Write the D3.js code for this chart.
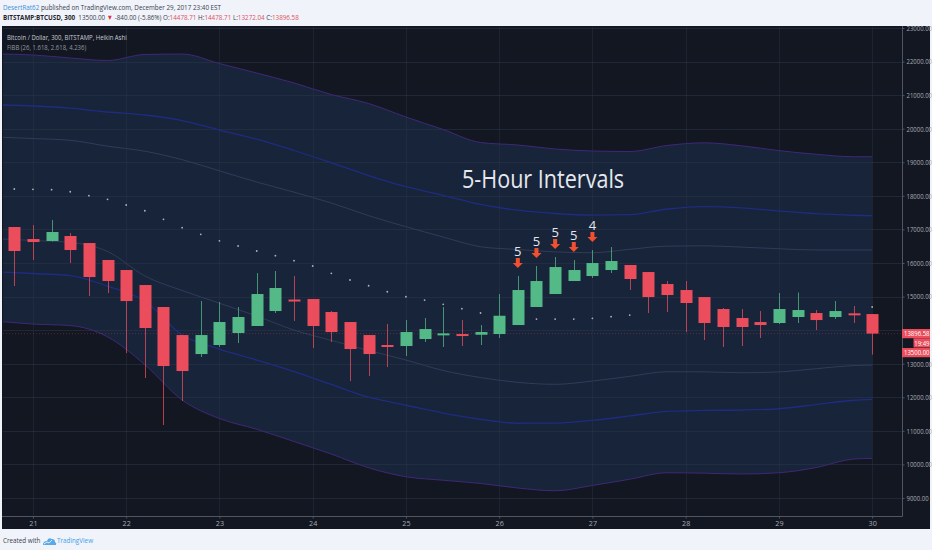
<!DOCTYPE html>
<html>
<head>
<meta charset="utf-8">
<script src="https://cdn.jsdelivr.net/npm/d3@7"></script>
<style>
  body { margin: 0; background: #f0f3fa; }
  svg { display: block; }
  text { font-family: "Open Sans", sans-serif; }
</style>
</head>
<body>
<div class="chart"></div>
<script>
// time axis: day labels and the 5h bar each one sits under
var dayLabels = ["21", "22", "23", "24", "25", "26", "27", "28", "29", "30"];
var dayBars = [1, 6, 11, 16, 21, 26, 31, 36, 41, 46];

// price axis
var priceTicks = [9000, 10000, 11000, 12000, 13000, 14000, 15000, 16000,
  17000, 18000, 19000, 20000, 21000, 22000, 23000];

// Heikin Ashi candles, BTCUSD 300 (one value per bar)
var haOpen = [17072, 16714, 16655, 16804, 16595, 16089, 15791, 15344, 14689, 13854,
  13288, 13557, 13914, 14123, 14569, 14912, 14927, 14540, 14242, 13854,
  13557, 13527, 13735, 13863, 13884, 13863, 13884, 14152, 14689, 15076,
  15463, 15612, 15791, 15940, 15731, 15374, 15195, 14986, 14629, 14361,
  14242, 14212, 14391, 14510, 14391, 14501, 14478.71];
var haHigh = [17072, 17131, 17280, 16893, 16595, 16089, 15791, 15344, 14689, 13854,
  14867, 14837, 14689, 15701, 15761, 15612, 14927, 14570, 14242, 13854,
  14182, 14301, 14361, 14689, 14301, 14152, 15076, 15612, 15910, 16178,
  16089, 16387, 16476, 15940, 15731, 15463, 15463, 14986, 14659, 14629,
  14569, 15106, 15120, 14599, 14867, 14718, 14478.71];
var haLow = [15314, 16089, 16640, 15999, 15016, 15106, 13318, 12573, 11173, 11888,
  13199, 13497, 13616, 14123, 14510, 14272, 13467, 13646, 12484, 12633,
  12901, 13229, 13646, 13497, 13527, 13557, 13765, 14152, 14689, 15076,
  15463, 15553, 15702, 15195, 14510, 14540, 13944, 13706, 13497, 13527,
  13765, 14182, 14212, 14003, 14331, 14212, 13272.04];
var haClose = [16357, 16625, 16923, 16387, 15582, 15463, 14867, 14063, 12931, 12782,
  13854, 14242, 14391, 15076, 15255, 14876, 14123, 13944, 13437, 13288,
  13527, 13944, 14033, 13904, 13845, 13944, 14429, 15195, 15463, 15880,
  15791, 15999, 16059, 15523, 14986, 15046, 14808, 14212, 14093, 14093,
  14152, 14629, 14599, 14301, 14569, 14459, 13896.58];

// trailing dots (null where none is drawn)
var sarDots = [18204, 18195, 18183, 18123, 18004, 17897, 17727, 17557, 17301, 17051,
  16854, 16661, 16506, 16357, 16217, 16068, 15910, 15692, 15493, 15323,
  15144, 14995, 14897, 14769, 14638, 14510, null, null, 14331, 14331,
  14331, 14352, 14400, 14450, null, null, null, null, null, null,
  null, null, null, null, null, null, 14689];

// FiBB (26, 1.618, 2.618, 4.236) bands, read at these bars
var bandBars = [-0.6, 1, 3, 5, 7, 9, 11, 13, 15, 17, 19, 21, 23, 25, 27, 29, 31, 33,
  35, 37, 39, 41, 43, 45, 46];
var upper4236 = [22225, 22196, 22106, 22032, 22211, 22225, 21942, 21659, 21362, 21019,
  20751, 20349, 19976, 19589, 19515, 19395, 19336, 19321, 19500, 19580,
  19491, 19348, 19238, 19166, 19166];
var upper2618 = [20706, 20676, 20611, 20498, 20408, 20244, 19961, 19687, 19351, 18984,
  18606, 18272, 18016, 17745, 17572, 17474, 17429, 17441, 17608, 17682,
  17644, 17548, 17468, 17423, 17408];
var upper1618 = [19744, 19708, 19655, 19479, 19330, 19077, 18746, 18412, 18109, 17787,
  17411, 17081, 16774, 16485, 16402, 16330, 16306, 16407, 16503, 16512,
  16473, 16425, 16387, 16387, 16387];
var lower1618 = [16714, 16670, 16613, 16345, 15612, 15180, 14802, 14420, 14003, 13694,
  13393, 13110, 12797, 12588, 12445, 12386, 12484, 12624, 12761, 12758,
  12731, 12756, 12851, 12946, 12961];
var lower2618 = [15731, 15687, 15627, 15314, 14867, 13854, 13437, 13110, 12767, 12383,
  12002, 11763, 11531, 11346, 11227, 11233, 11310, 11444, 11579, 11608,
  11620, 11659, 11784, 11912, 11939];
var lower4236 = [14251, 14182, 14137, 13801, 12970, 11918, 11367, 11048, 10682, 10309,
  9901, 9633, 9529, 9434, 9297, 9216, 9374, 9559, 9752, 9740,
  9714, 9752, 9907, 10161, 10181];

// count markers drawn above the bars
var signalBars = [27, 28, 29, 30, 31];
var signalLabels = ["5", "5", "5", "5", "4"];

var lastHaClose = 13896.58;
var lastPrice = 13500.00;
var countdown = "19:49";

(function () {

  // frame size
  var width = 932, height = 550;
  var plotLeft = 3, plotRight = 902, plotTop = 27, plotBottom = 516;
  // the screenshot is squeezed sideways, so text is too
  var squeeze = 0.83;

  var upColor = "#53b987", downColor = "#eb4d5c";

  var svg = d3.select(".chart")
    .append("svg")
    .attr("width", width)
    .attr("height", height);

  svg.append("rect")
    .attr("width", width)
    .attr("height", height)
    .attr("fill", "#f0f3fa");

  // dark chart panel
  svg.append("rect")
    .attr("x", 2)
    .attr("y", 26)
    .attr("width", 928)
    .attr("height", 503)
    .attr("fill", "#131722");

  var x = d3.scaleLinear().domain([-0.606, 47.6]).range([plotLeft, plotRight]);
  var y = d3.scaleLinear().domain([9000, 23000]).range([498, 28]);

  svg.append("clipPath")
    .attr("id", "plotClip")
    .append("rect")
    .attr("x", plotLeft)
    .attr("y", plotTop)
    .attr("width", plotRight - plotLeft)
    .attr("height", plotBottom - plotTop);

  var plot = svg.append("g").attr("clip-path", "url(#plotClip)");

  // squeezed text helper
  function squeezedText(parent, tx, ty) {
    return parent.append("text")
      .attr("transform", "translate(" + tx + "," + ty + ") scale(" + squeeze + ",1)");
  }

  // band points
  var bands = bandBars.map(function (b, i) {
    return {
      bar: b, up4: upper4236[i], up2: upper2618[i], up1: upper1618[i],
      lo1: lower1618[i], lo2: lower2618[i], lo4: lower4236[i]
    };
  });

  // filled area between outer bands
  var bandArea = d3.area()
    .x(function (d) { return x(d.bar); })
    .y0(function (d) { return y(d.lo4); })
    .y1(function (d) { return y(d.up4); })
    .curve(d3.curveMonotoneX);

  plot.append("path")
    .datum(bands)
    .attr("d", bandArea)
    .attr("fill", "#18243a");

  // grid
  plot.selectAll(".hgrid")
    .data(priceTicks)
    .enter()
    .append("line")
    .attr("class", "hgrid")
    .attr("x1", plotLeft)
    .attr("x2", plotRight)
    .attr("y1", function (d) { return Math.round(y(d)) + 0.5; })
    .attr("y2", function (d) { return Math.round(y(d)) + 0.5; })
    .attr("stroke", "#2c3447")
    .attr("stroke-opacity", 0.55);

  plot.selectAll(".vgrid")
    .data(dayBars)
    .enter()
    .append("line")
    .attr("class", "vgrid")
    .attr("x1", function (d) { return Math.round(x(d)) + 0.5; })
    .attr("x2", function (d) { return Math.round(x(d)) + 0.5; })
    .attr("y1", plotTop)
    .attr("y2", plotBottom)
    .attr("stroke", "#2c3447")
    .attr("stroke-opacity", 0.45);

  // band lines
  var bandStyles = [
    { key: "up4", color: "#3f2877", w: 1 },
    { key: "lo4", color: "#3f2877", w: 1 },
    { key: "up2", color: "#1f2c80", w: 1.3 },
    { key: "lo2", color: "#1f2c80", w: 1.3 },
    { key: "up1", color: "#303c58", w: 1 },
    { key: "lo1", color: "#303c58", w: 1 }
  ];

  bandStyles.forEach(function (s) {
    var line = d3.line()
      .x(function (d) { return x(d.bar); })
      .y(function (d) { return y(d[s.key]); })
      .curve(d3.curveMonotoneX);
    plot.append("path")
      .datum(bands)
      .attr("d", line)
      .attr("fill", "none")
      .attr("stroke", s.color)
      .attr("stroke-width", s.w);
  });

  // last price line
  plot.append("line")
    .attr("x1", plotLeft)
    .attr("x2", plotRight)
    .attr("y1", y(lastHaClose))
    .attr("y2", y(lastHaClose))
    .attr("stroke", downColor)
    .attr("stroke-opacity", 0.3)
    .attr("stroke-dasharray", "1,2");

  // trailing dots
  var dots = sarDots
    .map(function (v, i) { return { bar: i, value: v }; })
    .filter(function (d) { return d.value !== null; });

  plot.selectAll(".dot")
    .data(dots)
    .enter()
    .append("circle")
    .attr("class", "dot")
    .attr("cx", function (d) { return x(d.bar); })
    .attr("cy", function (d) { return y(d.value); })
    .attr("r", 0.9)
    .attr("fill", "#aeb2bd");

  // candles
  var candles = haOpen.map(function (o, i) {
    return { bar: i, open: o, high: haHigh[i], low: haLow[i], close: haClose[i] };
  });

  var candle = plot.selectAll(".candle")
    .data(candles)
    .enter()
    .append("g")
    .attr("class", "candle");

  candle.append("line")
    .attr("x1", function (d) { return Math.round(x(d.bar)) + 0.5; })
    .attr("x2", function (d) { return Math.round(x(d.bar)) + 0.5; })
    .attr("y1", function (d) { return y(d.high); })
    .attr("y2", function (d) { return y(d.low); })
    .attr("stroke", function (d) { return d.close >= d.open ? upColor : downColor; })
    .attr("stroke-opacity", 0.75);

  candle.append("rect")
    .attr("x", function (d) { return Math.round(x(d.bar)) - 5.5; })
    .attr("width", 12)
    .attr("y", function (d) { return y(Math.max(d.open, d.close)); })
    .attr("height", function (d) {
      return Math.max(2, y(Math.min(d.open, d.close)) - y(Math.max(d.open, d.close)));
    })
    .attr("fill", function (d) { return d.close >= d.open ? upColor : downColor; });

  // count arrows
  var signals = svg.selectAll(".signal")
    .data(signalBars)
    .enter()
    .append("g")
    .attr("class", "signal");

  signals.append("path")
    .attr("d", function (b) {
      var cx = x(b), t = y(haHigh[b]) - 8;
      return "M" + (cx - 2) + "," + (t - 10) + " h4 v5 h3 l-5,5 l-5,-5 h3 z";
    })
    .attr("fill", "#ef5030");

  signals.append("text")
    .attr("x", function (b) { return x(b); })
    .attr("y", function (b) { return y(haHigh[b]) - 20; })
    .attr("text-anchor", "middle")
    .attr("font-size", 13)
    .attr("fill", "#e3e6ee")
    .text(function (b, i) { return signalLabels[i]; });

  // big note
  squeezedText(svg, 462, 188)
    .attr("font-size", 26)
    .attr("fill", "#e6e8ee")
    .text("5-Hour Intervals");

  // legend in the chart
  squeezedText(svg, 7, 39.5)
    .attr("font-size", 7.2)
    .attr("fill", "#c9ccd4")
    .text("Bitcoin / Dollar, 300, BITSTAMP, Heikin Ashi");

  squeezedText(svg, 7, 49.5)
    .attr("font-size", 7.2)
    .attr("fill", "#9598a1")
    .text("FiBB (26, 1.618, 2.618, 4.236)");

  // axes frame
  svg.append("line")
    .attr("x1", 2).attr("x2", plotRight + 0.5)
    .attr("y1", plotBottom + 0.5).attr("y2", plotBottom + 0.5)
    .attr("stroke", "#50555f");
  svg.append("line")
    .attr("x1", plotRight + 0.5).attr("x2", plotRight + 0.5)
    .attr("y1", 26).attr("y2", plotBottom + 0.5)
    .attr("stroke", "#50555f");

  // right price axis
  var yAxis = svg.append("g")
    .attr("transform", "translate(" + (plotRight + 0.5) + ",0)")
    .call(d3.axisRight(y)
      .tickValues(priceTicks)
      .tickSize(2)
      .tickPadding(2)
      .tickFormat(d3.format(".2f")));
  yAxis.select(".domain").remove();
  yAxis.selectAll("line").attr("stroke", "#50555f");
  yAxis.selectAll("text")
    .attr("x", 4 / squeeze)
    .attr("transform", "scale(" + squeeze + ",1)")
    .attr("font-size", 7.2)
    .attr("font-family", "Open Sans, sans-serif")
    .attr("fill", "#a7abb5");
  // the 14000 label sits under the price tags, as in the screenshot
  yAxis.selectAll(".tick")
    .filter(function (d) { return Math.abs(y(d) - y(lastHaClose)) < 12; })
    .select("text")
    .remove();

  // bottom time axis
  var xAxis = svg.append("g")
    .attr("transform", "translate(0," + (plotBottom + 0.5) + ")")
    .call(d3.axisBottom(x)
      .tickValues(dayBars)
      .tickSize(2)
      .tickPadding(2)
      .tickFormat(function (d, i) { return dayLabels[i]; }));
  xAxis.select(".domain").remove();
  xAxis.selectAll("line").attr("stroke", "#50555f");
  xAxis.selectAll("text")
    .attr("font-size", 7.2)
    .attr("font-family", "Open Sans, sans-serif")
    .attr("fill", "#a7abb5");

  // price tags on the axis
  var tags = [
    { label: d3.format(".2f")(lastHaClose), cy: y(lastHaClose), left: plotRight },
    { label: countdown, cy: y(lastHaClose) + 9.3, left: 913.5 },
    { label: d3.format(".2f")(lastPrice), cy: y(lastHaClose) + 19, left: plotRight }
  ];

  var tag = svg.selectAll(".tag")
    .data(tags)
    .enter()
    .append("g")
    .attr("class", "tag");

  tag.append("rect")
    .attr("x", function (d) { return d.left; })
    .attr("y", function (d) { return d.cy - 4.6; })
    .attr("width", function (d) { return 930 - d.left; })
    .attr("height", 9.2)
    .attr("fill", downColor);

  tag.append("text")
    .attr("transform", function (d) {
      return "translate(929.5," + (d.cy + 2.6) + ") scale(" + squeeze + ",1)";
    })
    .attr("text-anchor", "end")
    .attr("font-size", 7.2)
    .attr("fill", "#ffffff")
    .text(function (d) { return d.label; });

  // header lines
  var head1 = squeezedText(svg, 3, 9.5).attr("font-size", 7.6);
  head1.append("tspan").attr("fill", "#3c8ed6").text("DesertRat62");
  head1.append("tspan").attr("fill", "#3a3e4a")
    .text(" published on TradingView.com, December 29, 2017 23:40 EST");

  var head2 = squeezedText(svg, 3, 19.6)
    .attr("font-size", 7.6)
    .attr("xml:space", "preserve");
  var red = "#e0505a", ink = "#3a3e4a";
  var parts = [
    ["BITSTAMP:BTCUSD, 300", "#1f232d", "bold"],
    ["  13500.00 ", ink],
    ["\u25BC", "#e0303c"],
    [" -840.00 (-5.86%) O:", ink],
    ["14478.71", red],
    [" H:", ink],
    ["14478.71", red],
    [" L:", ink],
    ["13272.04", red],
    [" C:", ink],
    ["13896.58", red]
  ];
  parts.forEach(function (p) {
    head2.append("tspan")
      .attr("fill", p[1])
      .attr("font-weight", p[2] || "normal")
      .text(p[0]);
  });

  // footer
  squeezedText(svg, 3, 543)
    .attr("font-size", 7.6)
    .attr("fill", "#3a3e4a")
    .text("Created with");

  // little cloud logo
  svg.append("path")
    .attr("d", "M43,545 q0,-4 4,-4 q1,-4 5,-2 q3,0 3,3 q2,1 1,3 z")
    .attr("fill", "#5aa9e6");
  svg.append("path")
    .attr("d", "M44,544 l3,-2 l2,1 l3,-3")
    .attr("fill", "none")
    .attr("stroke", "#ffffff")
    .attr("stroke-width", 0.8);

  squeezedText(svg, 57, 543)
    .attr("font-size", 7.6)
    .attr("fill", "#3ea0e8")
    .text("TradingView");

})();
</script>
</body>
</html>
